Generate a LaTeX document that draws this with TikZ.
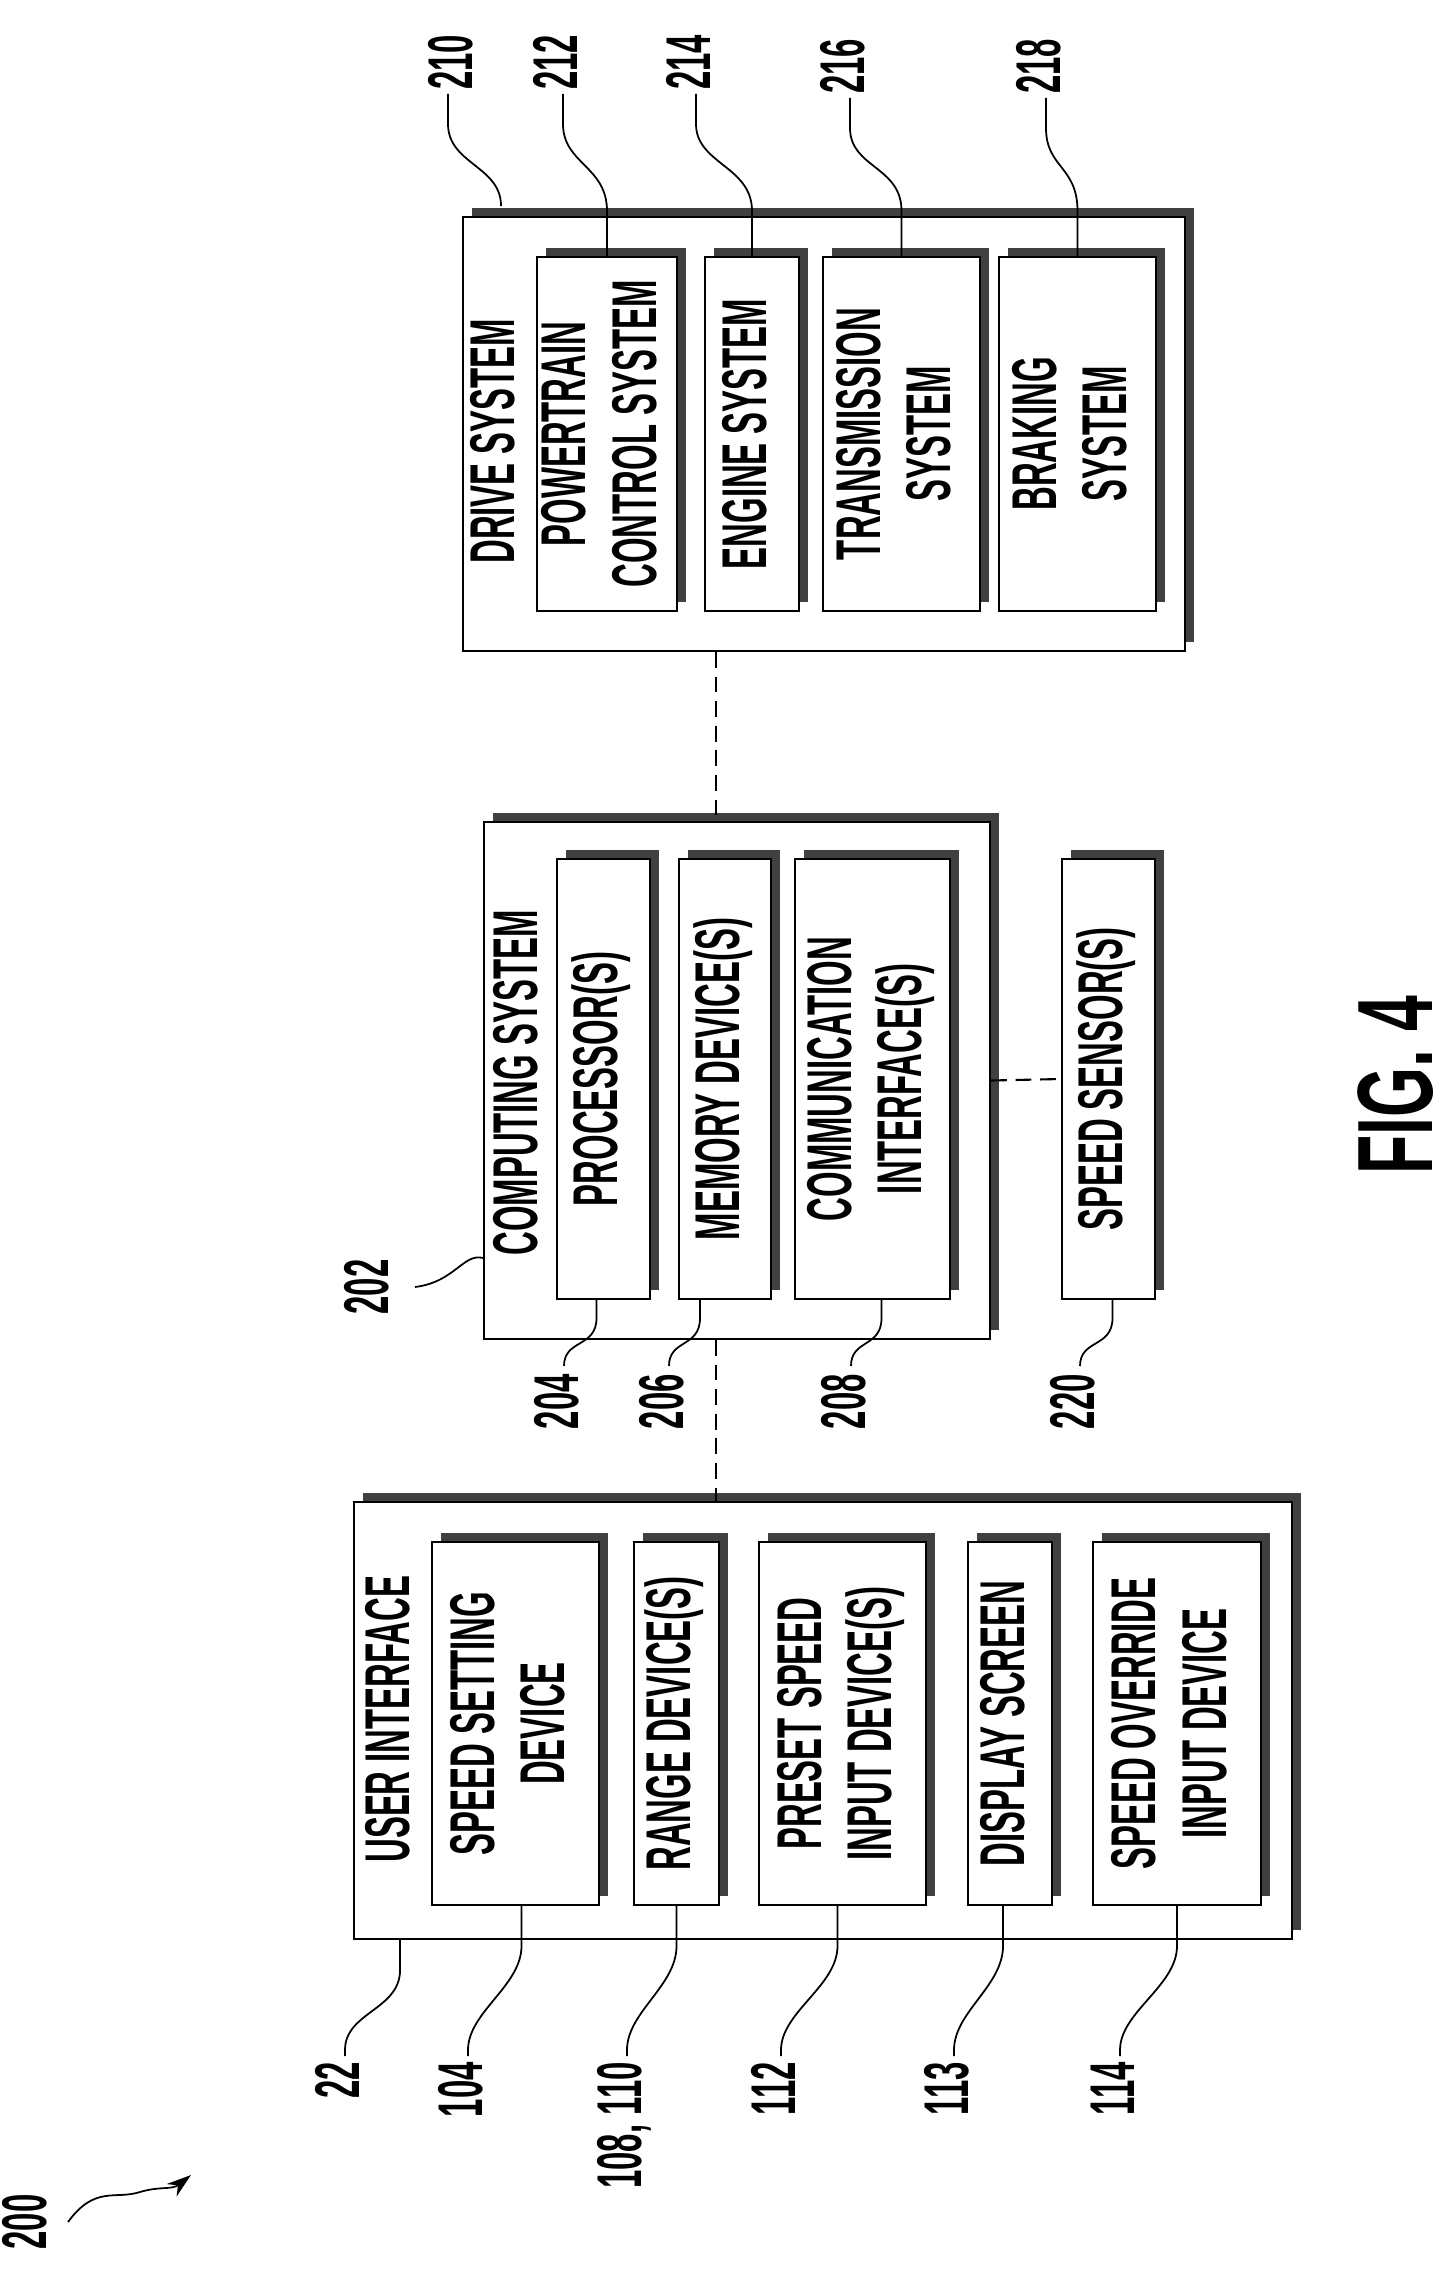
\documentclass[tikz,border=0pt]{standalone}
\usepackage{fontspec}
\setmainfont{Liberation Sans}
\usetikzlibrary{calc,fit,arrows.meta}
\definecolor{shc}{gray}{0.25}
\newcommand\tx[1]{\scalebox{0.52}[1]{\begin{tabular}{@{}c@{}}#1\end{tabular}}}
\newcommand\shbx[5]{\fill[shc] ($(#2,#3)+(9,-9)$) rectangle ($(#4,#5)+(9,-9)$);
  \node[bx, fit={(#2,#3)(#4,#5)}] (#1) {};}
\tikzset{
  bx/.style={draw=black, fill=white, line width=1.1pt, inner sep=0pt},
  lbl/.style={rotate=90, font=\fontsize{36}{40}\selectfont\bfseries, inner sep=0pt},
  lead/.style={line width=1pt},
  conn/.style={line width=1.2pt, dash pattern=on 9pt off 5pt},
}
\begin{document}
\begin{tikzpicture}[x=0.02cm,y=-0.02cm]
\useasboundingbox (0,0) rectangle (1455,2287);
% user interface
\shbx{ui}{354}{1502}{1292}{1939}
\shbx{ssd}{432}{1542}{599}{1905}
\shbx{rng}{634}{1542}{719}{1905}
\shbx{pre}{759}{1542}{926}{1905}
\shbx{dsp}{968}{1542}{1052}{1905}
\shbx{ovr}{1093}{1542}{1261}{1905}
\node[lbl, anchor=west] (tui) at (395,1863) {\tx{USER INTERFACE}};
\node[lbl] (tssd) at (ssd) {\tx{SPEED SETTING\\DEVICE}};
\node[lbl] (trng) at (rng) {\tx{RANGE DEVICE(S)}};
\node[lbl] (tpre) at (pre) {\tx{PRESET SPEED\\INPUT DEVICE(S)}};
\node[lbl] (tdsp) at (dsp) {\tx{DISPLAY SCREEN}};
\node[lbl] (tovr) at (ovr) {\tx{SPEED OVERRIDE\\INPUT DEVICE}};
% computing system
\shbx{comp}{484}{822}{990}{1339}
\shbx{proc}{557}{859}{650}{1299}
\shbx{mem}{679}{859}{771}{1299}
\shbx{comm}{795}{859}{950}{1299}
\shbx{spd}{1062}{859}{1155}{1299}
\node[lbl, anchor=west] (tcomp) at (523,1256) {\tx{COMPUTING SYSTEM}};
\node[lbl] (tproc) at (proc) {\tx{PROCESSOR(S)}};
\node[lbl] (tmem) at (mem) {\tx{MEMORY DEVICE(S)}};
\node[lbl] (tcomm) at (comm) {\tx{COMMUNICATION\\INTERFACE(S)}};
\node[lbl] (tspd) at (spd) {\tx{SPEED SENSOR(S)}};
% drive system
\shbx{drive}{463}{217}{1185}{651}
\shbx{pt}{537}{257}{677}{611}
\shbx{eng}{705}{257}{799}{611}
\shbx{trn}{823}{257}{980}{611}
\shbx{brk}{999}{257}{1156}{611}
\node[lbl, anchor=west] (tdrive) at (500,564) {\tx{DRIVE SYSTEM}};
\node[lbl] (tpt) at (pt) {\tx{POWERTRAIN\\CONTROL SYSTEM}};
\node[lbl] (teng) at (eng) {\tx{ENGINE SYSTEM}};
\node[lbl] (ttrn) at (trn) {\tx{TRANSMISSION\\SYSTEM}};
\node[lbl] (tbrk) at (brk) {\tx{BRAKING\\SYSTEM}};
% dashed connectors
\coordinate (cx) at (716,0);
\draw[conn] (drive.south -| cx) -- (comp.north -| cx);
\draw[conn] (comp.south -| cx) -- (ui.north -| cx);
\draw[conn] (comp.east) -- (spd.west);
% bottom labels
\node[lbl, anchor=east] (l22) at (345,2062) {\tx{22}};
\node[lbl, anchor=east] (l104) at (468,2062) {\tx{104}};
\node[lbl, anchor=east] (l108) at (627,2062) {\tx{108, 110}};
\node[lbl, anchor=east] (l112) at (781,2062) {\tx{112}};
\node[lbl, anchor=east] (l113) at (954,2062) {\tx{113}};
\node[lbl, anchor=east] (l114) at (1120,2062) {\tx{114}};
\draw[lead] ($(ui.south west)+(47,0)$) -- ++(0,30) .. controls ++(0,40) and ($(l22.east)+(0,-50)$) .. ($(l22.east)+(0,-12)$) -- ($(l22.east)+(0,-6)$);
\foreach \b/\l/\o in {ssd/l104/6, rng/l108/0, pre/l112/-5, dsp/l113/-7, ovr/l114/0}{
  \draw[lead] ($(\b.south)+(\o,0)$) -- ++(0,40) .. controls ++(0,40) and ($(\l.east)+(0,-50)$) .. ($(\l.east)+(0,-12)$) -- ($(\l.east)+(0,-6)$);
}
% computing labels
\node[lbl, anchor=south] (l202) at (410,1287) {\tx{202}};
\draw[lead] ($(comp.south west)+(0,-82)$) .. controls ++(-20,-5) and ++(40,-5) .. ($(l202.south)+(5,0)$);
\node[lbl, anchor=east] (l204) at (564,1374) {\tx{204}};
\node[lbl, anchor=east] (l206) at (669,1374) {\tx{206}};
\node[lbl, anchor=east] (l208) at (851,1374) {\tx{208}};
\node[lbl, anchor=east] (l220) at (1080,1374) {\tx{220}};
\foreach \b/\l/\o in {proc/l204/-7, mem/l206/-25, comm/l208/9, spd/l220/4}{
  \draw[lead] ($(\b.south)+(\o,0)$) -- ++(0,18) .. controls ++(0,30) and ($(\l.east)+(0,-35)$) .. ($(\l.east)+(0,-8)$);
}
% drive labels
\node[lbl, anchor=west] (l210) at (458,90) {\tx{210}};
\node[lbl, anchor=west] (l212) at (563,90) {\tx{212}};
\node[lbl, anchor=west] (l214) at (696,90) {\tx{214}};
\node[lbl, anchor=west] (l216) at (850,94) {\tx{216}};
\node[lbl, anchor=west] (l218) at (1046,94) {\tx{218}};
\draw[lead] ($(l210.west)+(-10,4)$) -- ++(0,30) .. controls ++(0,40) and ($(drive.north west)+(39,-50)$) .. ($(drive.north west)+(39,-10)$);
\foreach \l/\b in {l212/pt, l214/eng, l216/trn, l218/brk}{
  \draw[lead] ($(\l.west)+(0,4)$) -- ++(0,30) .. controls ++(0,40) and ($(\b.north)+(0,-90)$) .. ($(\b.north)+(0,-45)$) -- (\b.north);
}
% figure label
\node[lbl, font=\fontsize{61}{64}\selectfont\bfseries] (fig) at (1396,1085) {\scalebox{0.6}[1]{FIG. 4}};
% 200
\node[lbl, anchor=south] (l200) at (68,2222) {\tx{200}};
\coordinate (a200) at (191,2175);
\draw[lead, -{Stealth[length=14pt,width=9pt]}] (l200.south) .. controls (95,2185) and (115,2200) .. (140,2192) .. controls (160,2186) and (172,2190) .. (a200);
\end{tikzpicture}
\end{document}
